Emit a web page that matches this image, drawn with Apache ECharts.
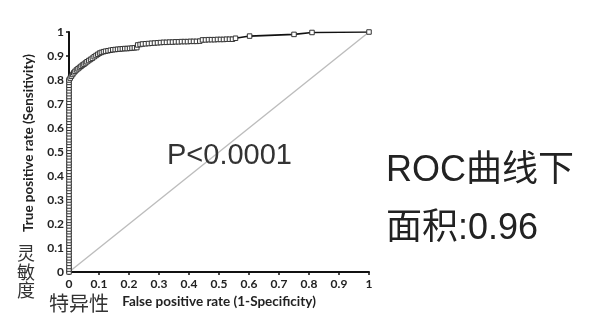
<!DOCTYPE html>
<html>
<head>
<meta charset="utf-8">
<script src="https://cdn.jsdelivr.net/npm/echarts@6/dist/echarts.min.js"></script>
<style>
  html, body { margin: 0; padding: 0; background: #fff; }
  #chart { width: 600px; height: 325px; }
</style>
</head>
<body>
<div id="chart"></div>
<script>
// ROC points lying on the sensitivity axis (false positive rate = 0)
const axisTpr = [0, 0.012, 0.023, 0.036, 0.048, 0.059, 0.071, 0.084, 0.095, 0.108, 0.12, 0.131,
  0.143, 0.156, 0.168, 0.179, 0.192, 0.204, 0.215, 0.227, 0.24, 0.252, 0.263, 0.275, 0.288, 0.3,
  0.311, 0.323, 0.336, 0.348, 0.359, 0.371, 0.384, 0.396, 0.407, 0.419, 0.432, 0.444, 0.455, 0.467,
  0.48, 0.492, 0.503, 0.515, 0.528, 0.54, 0.551, 0.563, 0.576, 0.588, 0.599, 0.611, 0.624, 0.636,
  0.647, 0.659, 0.672, 0.684, 0.695, 0.707, 0.72, 0.731, 0.743, 0.755, 0.767, 0.778, 0.79];

// ROC points after the curve leaves the axis
const curveFpr = [0, 0.004, 0.008, 0.012, 0.016, 0.02, 0.025, 0.03, 0.035, 0.04, 0.045, 0.05,
  0.055, 0.06, 0.066, 0.072, 0.078, 0.084, 0.09, 0.096, 0.102, 0.108, 0.115, 0.122, 0.13, 0.138,
  0.146, 0.154, 0.162, 0.17, 0.178, 0.186, 0.194, 0.202, 0.21, 0.218, 0.226, 0.229, 0.237, 0.245,
  0.255, 0.265, 0.275, 0.285, 0.295, 0.305, 0.315, 0.325, 0.335, 0.345, 0.355, 0.365, 0.375, 0.385,
  0.395, 0.405, 0.415, 0.425, 0.436, 0.445, 0.455, 0.465, 0.475, 0.485, 0.495, 0.505, 0.515, 0.525,
  0.535, 0.545, 0.555, 0.602, 0.75, 0.81, 1];
const curveTpr = [0.8, 0.808, 0.816, 0.823, 0.83, 0.836, 0.842, 0.847, 0.852, 0.857, 0.862, 0.866,
  0.871, 0.876, 0.881, 0.886, 0.891, 0.897, 0.902, 0.907, 0.912, 0.915, 0.918, 0.92, 0.922, 0.924,
  0.926, 0.927, 0.928, 0.929, 0.93, 0.931, 0.931, 0.932, 0.933, 0.934, 0.935, 0.946, 0.948, 0.95,
  0.951, 0.952, 0.953, 0.954, 0.955, 0.956, 0.957, 0.957, 0.958, 0.958, 0.959, 0.959, 0.96, 0.96,
  0.96, 0.961, 0.961, 0.961, 0.962, 0.967, 0.967, 0.968, 0.968, 0.968, 0.969, 0.969, 0.969, 0.97,
  0.97, 0.97, 0.974, 0.983, 0.99, 0.998, 1];

// Reference (chance) diagonal
const chanceLine = [0, 1];

const pValueText = 'P<0.0001';
const aucLine1 = 'ROC曲线下';
const aucLine2 = '面积:0.96';
const xAxisTitle = 'False positive rate (1-Specificity)';
const yAxisTitle = 'True positive rate (Sensitivity)';
const xAxisTitleZh = '特异性';
const yAxisTitleZh = '灵敏度';

const rocData = axisTpr.map(v => [0, v]).concat(curveFpr.map((f, i) => [f, curveTpr[i]]));
const diagData = chanceLine.map(v => [v, v]);

const latin = "'Liberation Sans', 'Noto Sans CJK SC', sans-serif";
const cjk = "'Noto Sans CJK SC', sans-serif";
const tickFont = "Lato, 'Liberation Sans', sans-serif";

const chart = echarts.init(document.getElementById('chart'), null, { renderer: 'canvas' });
chart.setOption({
  backgroundColor: '#fff',
  animation: false,
  grid: { left: 69, right: 231, top: 32, bottom: 53, containLabel: false },
  xAxis: {
    type: 'value', min: 0, max: 1, interval: 0.1,
    splitLine: { show: false },
    axisLine: { show: true, onZero: false, lineStyle: { color: '#111', width: 2 } },
    axisTick: { show: true, length: 3, lineStyle: { color: '#111', width: 1.5 } },
    axisLabel: { color: '#222', fontFamily: tickFont, fontWeight: 'bold', fontSize: 12, margin: 6 },
    name: xAxisTitle, nameLocation: 'middle', nameGap: 23,
    nameTextStyle: { color: '#222', fontFamily: tickFont, fontWeight: 'bold', fontSize: 13.5 }
  },
  yAxis: {
    type: 'value', min: 0, max: 1, interval: 0.1,
    splitLine: { show: false },
    axisLine: { show: true, onZero: false, lineStyle: { color: '#111', width: 2 } },
    axisTick: { show: true, length: 3, lineStyle: { color: '#111', width: 1.5 } },
    axisLabel: { color: '#222', fontFamily: tickFont, fontWeight: 'bold', fontSize: 12, margin: 5 }
  },
  series: [
    {
      type: 'line', data: diagData, symbol: 'none', z: 1,
      lineStyle: { color: '#bdbdbd', width: 1.5 }
    },
    {
      type: 'line', data: rocData, z: 2,
      symbol: 'rect', symbolSize: 4.5, showAllSymbol: true,
      itemStyle: { color: '#fff', borderColor: '#333', borderWidth: 1 },
      lineStyle: { color: '#111', width: 1.6 }
    }
  ],
  graphic: [
    { type: 'text', x: 29, y: 143, rotation: Math.PI / 2, z: 10,
      style: { text: yAxisTitle, fill: '#222', font: "bold 13.5px " + tickFont, align: 'center', verticalAlign: 'middle' } },
    { type: 'text', x: 26, y: 244, z: 10,
      style: { text: yAxisTitleZh.split('').join('\n'), fill: '#333', font: "18px " + cjk, lineHeight: 18.5, align: 'center', verticalAlign: 'top' } },
    { type: 'text', x: 49, y: 303, z: 10,
      style: { text: xAxisTitleZh, fill: '#333', font: "20px " + cjk, align: 'left', verticalAlign: 'middle' } },
    { type: 'text', x: 167, y: 156, z: 10,
      style: { text: pValueText, fill: '#333', font: "29px " + latin, align: 'left', verticalAlign: 'middle' } },
    { type: 'text', x: 386, y: 171, z: 10,
      style: { text: aucLine1, fill: '#222', font: "36px " + latin, align: 'left', verticalAlign: 'middle' } },
    { type: 'text', x: 386, y: 229, z: 10,
      style: { text: aucLine2, fill: '#222', font: "36px " + latin, align: 'left', verticalAlign: 'middle' } }
  ]
});
</script>
</body>
</html>
